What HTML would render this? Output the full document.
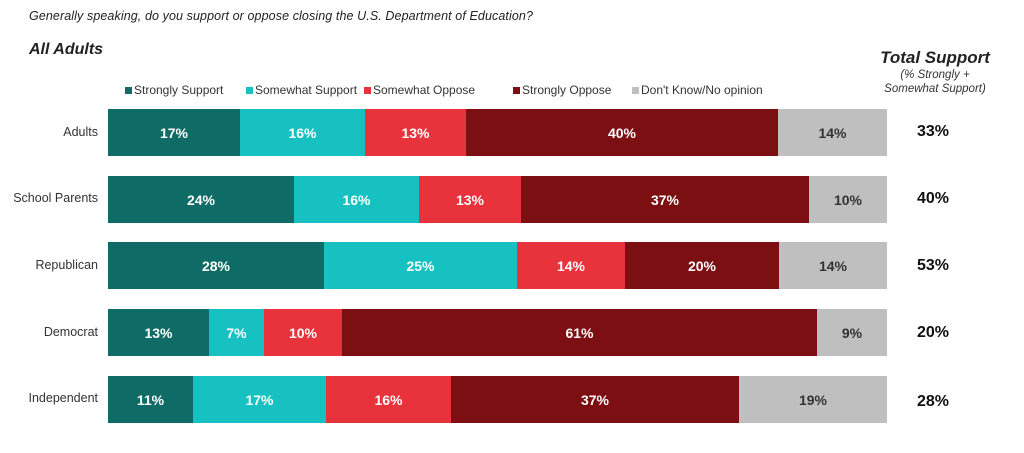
<!DOCTYPE html>
<html><head><meta charset="utf-8"><style>
body{margin:0;width:1024px;height:453px;background:#fff;font-family:"Liberation Sans",sans-serif;position:relative;overflow:hidden}
.a{position:absolute}
.bar{position:absolute;left:108px;height:47px;display:flex;width:779px}
.bar div{height:100%;display:flex;align-items:center;justify-content:center;color:#fff;font-weight:bold;font-size:14px}
.c1{background:#0e6b66}.c2{background:#17c1c1}.c3{background:#e8323c}.c4{background:#7c0f12}.c5{background:#bfbfbf;color:#333!important}
.lab{position:absolute;right:926px;font-size:12.5px;color:#333;text-align:right;white-space:nowrap}
.tot{position:absolute;left:898px;width:70px;text-align:center;font-weight:bold;font-size:16px;color:#111}
.lg{position:absolute;top:83px;font-size:12px;color:#333;white-space:nowrap}
.lg i{display:inline-block;width:7px;height:7px;margin-right:2px;vertical-align:0}
</style></head><body>
<div class="a" style="left:29px;top:9px;font-size:12.5px;font-style:italic;color:#222;letter-spacing:0.1px">Generally speaking, do you support or oppose closing the U.S. Department of Education?</div>
<div class="a" style="left:29px;top:41px;font-size:16px;font-style:italic;font-weight:bold;color:#222">All Adults</div>
<div class="a" style="left:857px;top:48px;width:156px;text-align:center;font-size:17px;font-style:italic;font-weight:bold;color:#222">Total Support</div>
<div class="a" style="left:857px;top:68px;width:156px;text-align:center;font-size:11.5px;font-style:italic;color:#333;line-height:14px">(% Strongly +<br>Somewhat Support)</div>
<div class="lg" style="left:125px"><i class="c1"></i>Strongly Support</div>
<div class="lg" style="left:246px"><i class="c2"></i>Somewhat Support</div>
<div class="lg" style="left:364px"><i class="c3"></i>Somewhat Oppose</div>
<div class="lg" style="left:513px"><i class="c4"></i>Strongly Oppose</div>
<div class="lg" style="left:632px"><i class="c5" style="background:#bfbfbf"></i>Don't Know/No opinion</div>

<div class="lab" style="top:125px">Adults</div>
<div class="bar" style="top:109px"><div class="c1" style="width:132px">17%</div><div class="c2" style="width:125px">16%</div><div class="c3" style="width:101px">13%</div><div class="c4" style="width:312px">40%</div><div class="c5" style="flex:1">14%</div></div>
<div class="tot" style="top:123px">33%</div>

<div class="lab" style="top:191px">School Parents</div>
<div class="bar" style="top:176px"><div class="c1" style="width:186px">24%</div><div class="c2" style="width:125px">16%</div><div class="c3" style="width:102px">13%</div><div class="c4" style="width:288px">37%</div><div class="c5" style="flex:1">10%</div></div>
<div class="tot" style="top:190px">40%</div>

<div class="lab" style="top:258px">Republican</div>
<div class="bar" style="top:242px"><div class="c1" style="width:216px">28%</div><div class="c2" style="width:193px">25%</div><div class="c3" style="width:108px">14%</div><div class="c4" style="width:154px">20%</div><div class="c5" style="flex:1">14%</div></div>
<div class="tot" style="top:257px">53%</div>

<div class="lab" style="top:325px">Democrat</div>
<div class="bar" style="top:309px"><div class="c1" style="width:101px">13%</div><div class="c2" style="width:55px">7%</div><div class="c3" style="width:78px">10%</div><div class="c4" style="width:475px">61%</div><div class="c5" style="flex:1">9%</div></div>
<div class="tot" style="top:324px">20%</div>

<div class="lab" style="top:391px">Independent</div>
<div class="bar" style="top:376px"><div class="c1" style="width:85px">11%</div><div class="c2" style="width:133px">17%</div><div class="c3" style="width:125px">16%</div><div class="c4" style="width:288px">37%</div><div class="c5" style="flex:1">19%</div></div>
<div class="tot" style="top:393px">28%</div>
</body></html>
